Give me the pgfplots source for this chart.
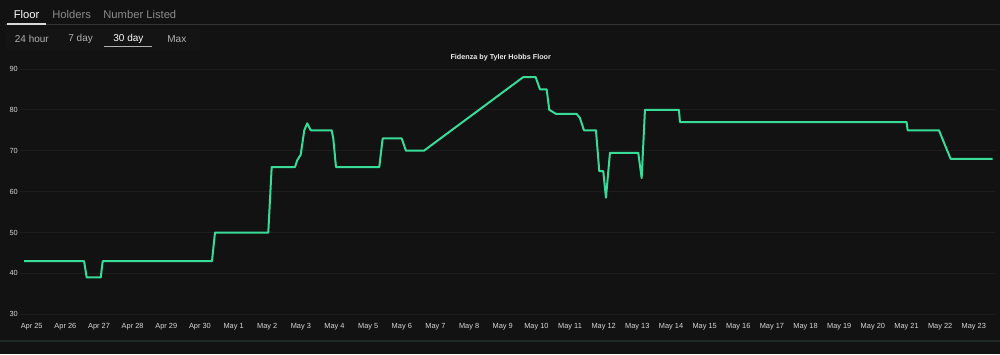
\documentclass[border=0pt]{standalone}
\usepackage{fontspec}
\setmainfont{Liberation Sans}
\usepackage{pgfplots}
\pgfplotsset{compat=1.18}
\definecolor{bg}{HTML}{121212}
\definecolor{btnbg}{HTML}{141414}
\definecolor{gridc}{HTML}{1D1D1D}
\definecolor{linec}{HTML}{38DC98}
\definecolor{tickc}{HTML}{D8D8D8}
\definecolor{tabgray}{HTML}{8C8C8C}
\definecolor{sepc}{HTML}{333333}
\definecolor{botc}{HTML}{1E2A27}
\begin{document}
\begin{tikzpicture}[x=0.5pt,y=-0.5pt]
\fill[bg] (0,0) rectangle (1000,354);
\fill[btnbg] (5,29) rectangle (200,49);
% tab headers
\node[anchor=west,inner sep=0pt,text=white,font=\fontsize{5.6}{6}\selectfont] at (13.5,14.5) {Floor};
\node[anchor=west,inner sep=0pt,text=tabgray,font=\fontsize{5.6}{6}\selectfont] at (52,14.5) {Holders};
\node[anchor=west,inner sep=0pt,text=tabgray,font=\fontsize{5.6}{6}\selectfont] at (103,14.5) {Number Listed};
\draw[sepc,line width=0.6pt] (5,24.5) -- (1000,24.5);
\draw[white!85!black,line width=0.8pt] (7,24) -- (46,24);
% range buttons
\node[anchor=west,inner sep=0pt,text=white!70!black,font=\fontsize{5}{6}\selectfont] at (14.5,39) {24 hour};
\node[anchor=west,inner sep=0pt,text=white!70!black,font=\fontsize{5}{6}\selectfont] at (68,39) {7 day};
\node[anchor=west,inner sep=0pt,text=white,font=\fontsize{5}{6}\selectfont] at (113,39) {30 day};
\node[anchor=west,inner sep=0pt,text=white!70!black,font=\fontsize{5}{6}\selectfont] at (167,39) {Max};
\draw[white!70!black,line width=0.8pt] (104,46.5) -- (152,46.5);
% title
\node[inner sep=0pt,text=white!92!black,font=\bfseries\fontsize{3.6}{4}\selectfont] at (500.7,58) {Fidenza by Tyler Hobbs Floor};
% bottom separator
\draw[botc,line width=0.6pt] (0,341) -- (1000,341);
\begin{axis}[
  at={(10pt,-157.15pt)}, anchor=south west,
  scale only axis, width=487.5pt, height=122.7pt,
  xmin=-0.348, xmax=28.63, ymin=30, ymax=90,
  axis line style={draw=none},
  major tick length=0pt,
  ytick={30,40,50,60,70,80,90},
  xtick={0,...,28},
  xticklabels={Apr 25,Apr 26,Apr 27,Apr 28,Apr 29,Apr 30,May 1,May 2,May 3,May 4,May 5,May 6,May 7,May 8,May 9,May 10,May 11,May 12,May 13,May 14,May 15,May 16,May 17,May 18,May 19,May 20,May 21,May 22,May 23},
  ymajorgrids, grid style={gridc,line width=0.4pt},
  tick label style={font=\fontsize{3.7}{4}\selectfont, text=tickc, inner sep=0pt},
  yticklabel style={anchor=east,xshift=-0.9pt},
  xticklabel style={anchor=north,yshift=-4.2pt},
  /pgf/number format/assume math mode=true,
  clip=false,
]
\addplot[linec, line width=1pt, line join=round] coordinates {
(-0.229,43) (1.557,43) (1.634,39) (2.051,39) (2.110,43)
(5.358,43) (5.447,50) (7.031,50) (7.132,66) (7.825,66)
(7.893,67.7) (7.994,69) (8.101,75) (8.190,76.7) (8.291,75)
(8.915,75) (8.963,73) (9.043,66) (10.330,66) (10.431,73)
(10.996,73) (11.123,70) (11.658,70) (14.609,88) (14.978,88)
(15.105,85) (15.305,85) (15.382,80) (15.483,79.5) (15.581,79)
(16.196,79) (16.294,78) (16.413,75) (16.770,75) (16.868,65)
(16.987,65) (17.067,58.5) (17.186,69.5) (18.027,69.5) (18.128,63.3)
(18.226,80) (19.236,80) (19.266,77) (26.003,77) (26.033,75)
(26.963,75) (27.311,68) (28.559,68)
};
\end{axis}
\pgfresetboundingbox
\path (0,0) rectangle (1000,354);
\end{tikzpicture}
\end{document}
